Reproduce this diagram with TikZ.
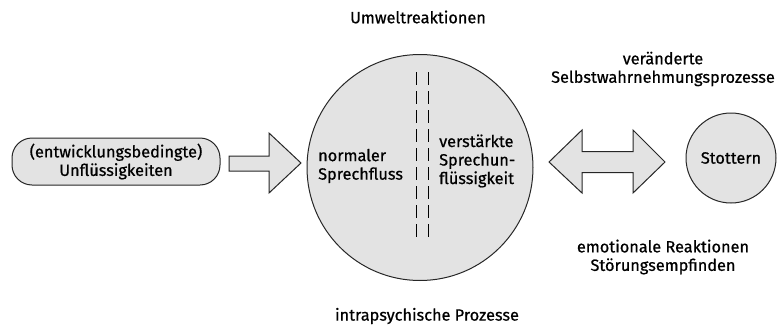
\documentclass[tikz,border=0pt]{standalone}
\usepackage{fontspec}
\setmainfont{Fira Sans}[FakeBold=0.7]
\usetikzlibrary{shapes.geometric}
\begin{document}
\begin{tikzpicture}[x=1pt,y=-1pt,
  font=\fontsize{16.3}{18.5}\selectfont,
  shapefill/.style={fill=gray!22, draw=black!85, line width=1pt},
  lbl/.style={inner sep=0pt, align=center}]
\useasboundingbox (0,0) rectangle (780,327);
% left rounded box
\node[shapefill, rounded corners=20pt, minimum width=208pt, minimum height=47pt, align=center, inner sep=0pt] (dev) at (116,161.5) {(entwicklungsbedingte)\\Unflüssigkeiten};
% right arrow
\draw[shapefill, line join=miter] (229,156) -- (269,156) -- (269,133) -- (301,163) -- (269,193) -- (269,171) -- (229,171) -- cycle;
% big circle
\node[shapefill, circle, minimum size=226pt, inner sep=0pt] (big) at (420,167.5) {};
\draw[line width=1pt, dash pattern=on 13pt off 6pt] (416,72) -- (416,242);
\draw[line width=1pt, dash pattern=on 13pt off 6pt] (428,72) -- (428,242);
\node[lbl, align=left, anchor=west] (norm) at (318,166) {normaler\\Sprechfluss};
\node[lbl, align=left, anchor=west] (verst) at (439,161) {verstärkte\\Sprechun-\\flüssigkeit};
% double arrow
\draw[shapefill, line join=miter] (549,162) -- (582,130) -- (582,151.5) -- (633,151.5) -- (633,130) -- (665,162) -- (633,193) -- (633,172.5) -- (582,172.5) -- (582,193) -- cycle;
% Stottern
\node[shapefill, circle, minimum size=90pt, inner sep=0pt] (stot) at (731,158) {Stottern};
% labels
\node[lbl] (umw) at (418,17) {Umweltreaktionen};
\node[lbl] (intra) at (427,316) {intrapsychische Prozesse};
\node[lbl] (selbst) at (663,69) {veränderte\\Selbstwahrnehmungsprozesse};
\node[lbl] (emo) at (663,257) {emotionale Reaktionen\\Störungsempfinden};
\end{tikzpicture}
\end{document}
